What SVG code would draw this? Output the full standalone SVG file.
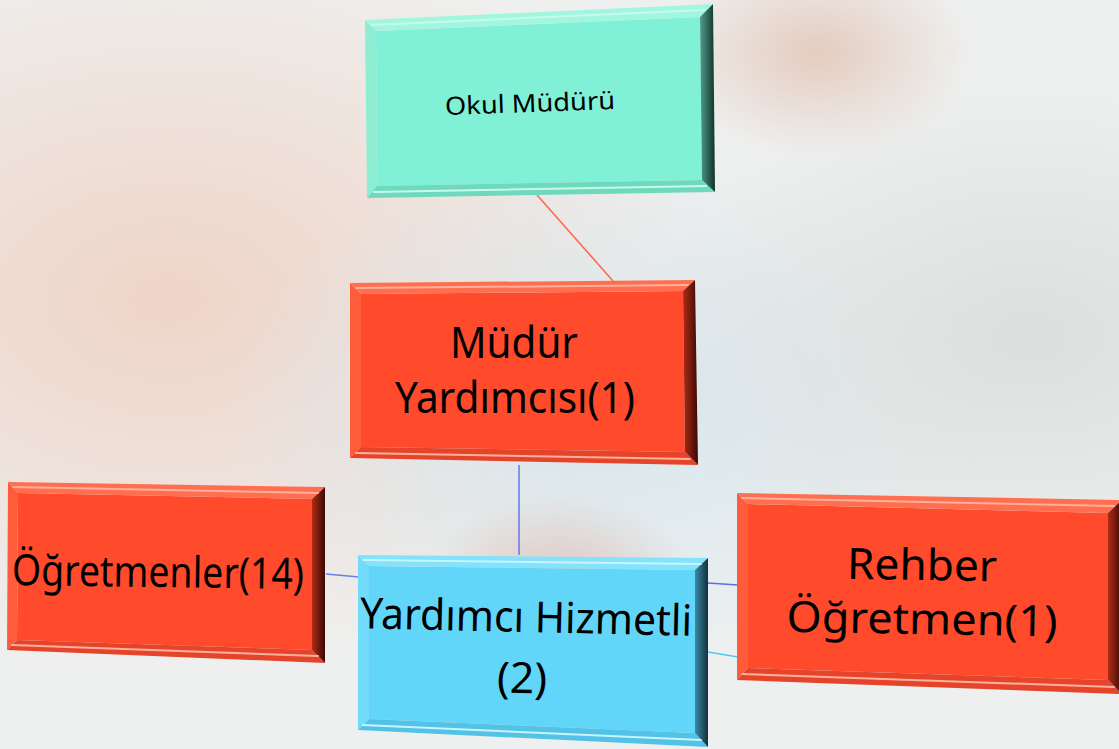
<svg xmlns="http://www.w3.org/2000/svg" width="1119" height="749" viewBox="0 0 1119 749">
<defs>
<radialGradient id="bgL" cx="0.15" cy="0.4" r="0.5"><stop offset="0" stop-color="#efcfc0" stop-opacity="0.85"/><stop offset="1" stop-color="#efcfc0" stop-opacity="0"/></radialGradient>
<radialGradient id="bgT" cx="0.73" cy="0.07" r="0.14"><stop offset="0" stop-color="#dcae98" stop-opacity="0.55"/><stop offset="1" stop-color="#dcae98" stop-opacity="0"/></radialGradient>
<radialGradient id="bgC" cx="0.55" cy="0.55" r="0.35"><stop offset="0" stop-color="#d6e6ee" stop-opacity="0.9"/><stop offset="1" stop-color="#d6e6ee" stop-opacity="0"/></radialGradient>
<radialGradient id="bgR" cx="0.92" cy="0.45" r="0.35"><stop offset="0" stop-color="#d8dad8" stop-opacity="0.8"/><stop offset="1" stop-color="#d8dad8" stop-opacity="0"/></radialGradient>
<radialGradient id="bgB" cx="0.5" cy="0.78" r="0.12"><stop offset="0" stop-color="#d9a090" stop-opacity="0.5"/><stop offset="1" stop-color="#d9a090" stop-opacity="0"/></radialGradient>
<linearGradient id="rTeal" x1="0" y1="0" x2="1" y2="0"><stop offset="0" stop-color="#4d9e8a"/><stop offset="1" stop-color="#13302a"/></linearGradient>
<linearGradient id="rRed" x1="0" y1="0" x2="1" y2="0"><stop offset="0" stop-color="#b02a14"/><stop offset="1" stop-color="#3a0a04"/></linearGradient>
<linearGradient id="rBlue" x1="0" y1="0" x2="1" y2="0"><stop offset="0" stop-color="#3a8aa8"/><stop offset="1" stop-color="#12303c"/></linearGradient>
<style>
.t{font-family:"Noto Sans","Open Sans","Liberation Sans",sans-serif;fill:#000;text-anchor:middle}
.teal .face{fill:#80f1d6}.teal .top{fill:#a2f6df}.teal .left{fill:#8deed4}.teal .bot{fill:#6fd9bd}.teal .right{fill:url(#rTeal)}.teal .hl{stroke:#c6fbec}
.red .face{fill:#ff4b2b}.red .top{fill:#ff6e4e}.red .left{fill:#ff5c3c}.red .bot{fill:#e5442a}.red .right{fill:url(#rRed)}.red .hl{stroke:#ffb09c}
.blue .face{fill:#62d6f8}.blue .top{fill:#84e2fb}.blue .left{fill:#72dbfa}.blue .bot{fill:#52c2e6}.blue .right{fill:url(#rBlue)}.blue .hl{stroke:#c8f4ff}
.hl{stroke-width:2;fill:none;stroke-linecap:round}
.c{fill:none;stroke-width:1.6}
</style>
</defs>
<g id="background">
<rect width="1119" height="749" fill="#eef0ef"/>
<rect width="1119" height="749" fill="url(#bgL)"/>
<rect width="1119" height="749" fill="url(#bgC)"/>
<rect width="1119" height="749" fill="url(#bgR)"/>
<rect width="1119" height="749" fill="url(#bgT)"/>
<rect width="1119" height="749" fill="url(#bgB)"/>
</g>
<g id="connectors">
<line class="c" x1="537" y1="195" x2="613" y2="281" stroke="#ff6a50"/>
<line class="c" x1="519" y1="465" x2="519" y2="555" stroke="#6a7fe6"/>
<line class="c" x1="326" y1="574" x2="359" y2="577" stroke="#6a7fe6"/>
<line class="c" x1="708" y1="583" x2="738" y2="585" stroke="#5a6fe0"/>
<line class="c" x1="708" y1="652" x2="738" y2="657" stroke="#4fc8f0"/>
</g>
<g id="okul-muduru" class="teal">
<polygon class="face" points="376,31 700,17 702,180 377,186"/>
<polygon class="top" points="365,20 713,4 700,17 376,31"/>
<polygon class="left" points="367,198 365,20 376,31 377,186"/>
<polygon class="bot" points="715,192 367,198 377,186 702,180"/>
<polygon class="right" points="713,4 715,192 702,180 700,17"/>
<line class="hl" x1="372" y1="25" x2="704" y2="10"/>
<line class="hl" x1="374" y1="192" x2="706" y2="186"/>
<text class="t" x="530" y="112" font-size="25" transform="rotate(-2 530 104)" textLength="170" lengthAdjust="spacingAndGlyphs">Okul Müdürü</text>
</g>
<g id="mudur-yardimcisi" class="red">
<polygon class="face" points="361,294 683,291 685,452 361,447"/>
<polygon class="top" points="350,283 695,280 683,291 361,294"/>
<polygon class="left" points="350,458 350,283 361,294 361,447"/>
<polygon class="bot" points="698,465 350,458 361,447 685,452"/>
<polygon class="right" points="695,280 698,465 685,452 683,291"/>
<line class="hl" x1="356" y1="288" x2="688" y2="285"/>
<line class="hl" x1="356" y1="453" x2="690" y2="459"/>
<text class="t" x="514" y="358" font-size="43" textLength="128" lengthAdjust="spacingAndGlyphs">Müdür</text>
<text class="t" x="515" y="413" font-size="43" textLength="240" lengthAdjust="spacingAndGlyphs">Yardımcısı(1)</text>
</g>
<g id="ogretmenler" class="red">
<polygon class="face" points="18,493 312,499 312,650 17,640"/>
<polygon class="top" points="8,482 325,487 312,499 18,493"/>
<polygon class="left" points="7,650 8,482 18,493 17,640"/>
<polygon class="bot" points="325,663 7,650 17,640 312,650"/>
<polygon class="right" points="325,487 325,663 312,650 312,499"/>
<line class="hl" x1="13" y1="487" x2="318" y2="493"/>
<line class="hl" x1="12" y1="645" x2="318" y2="656"/>
<text class="t" x="158" y="587" font-size="43" transform="rotate(0.8 158 575)" textLength="292" lengthAdjust="spacingAndGlyphs">Öğretmenler(14)</text>
</g>
<g id="yardimci-hizmetli" class="blue">
<polygon class="face" points="369,566 695,570 695,733 369,719"/>
<polygon class="top" points="358,555 708,558 695,570 369,566"/>
<polygon class="left" points="358,730 358,555 369,566 369,719"/>
<polygon class="bot" points="708,747 358,730 369,719 695,733"/>
<polygon class="right" points="708,558 708,747 695,733 695,570"/>
<line class="hl" x1="363" y1="560" x2="701" y2="564"/>
<line class="hl" x1="363" y1="725" x2="701" y2="740"/>
<text class="t" x="526" y="632" font-size="43" transform="rotate(1.3 526 620)" textLength="332" lengthAdjust="spacingAndGlyphs">Yardımcı Hizmetli</text>
<text class="t" x="522" y="693" font-size="43" transform="rotate(1.3 522 680)" textLength="50" lengthAdjust="spacingAndGlyphs">(2)</text>
</g>
<g id="rehber-ogretmen" class="red">
<polygon class="face" points="748,504 1108,513 1108,680 748,668"/>
<polygon class="top" points="737,493 1122,500 1108,513 748,504"/>
<polygon class="left" points="737,680 737,493 748,504 748,668"/>
<polygon class="bot" points="1122,694 737,680 748,668 1108,680"/>
<polygon class="right" points="1122,500 1122,694 1108,680 1108,513"/>
<line class="hl" x1="742" y1="498" x2="1114" y2="506"/>
<line class="hl" x1="742" y1="674" x2="1114" y2="687"/>
<text class="t" x="922" y="580" font-size="43" transform="rotate(1 922 568)" textLength="150" lengthAdjust="spacingAndGlyphs">Rehber</text>
<text class="t" x="922" y="634" font-size="43" transform="rotate(1 922 622)" textLength="271" lengthAdjust="spacingAndGlyphs">Öğretmen(1)</text>
</g>
</svg>
